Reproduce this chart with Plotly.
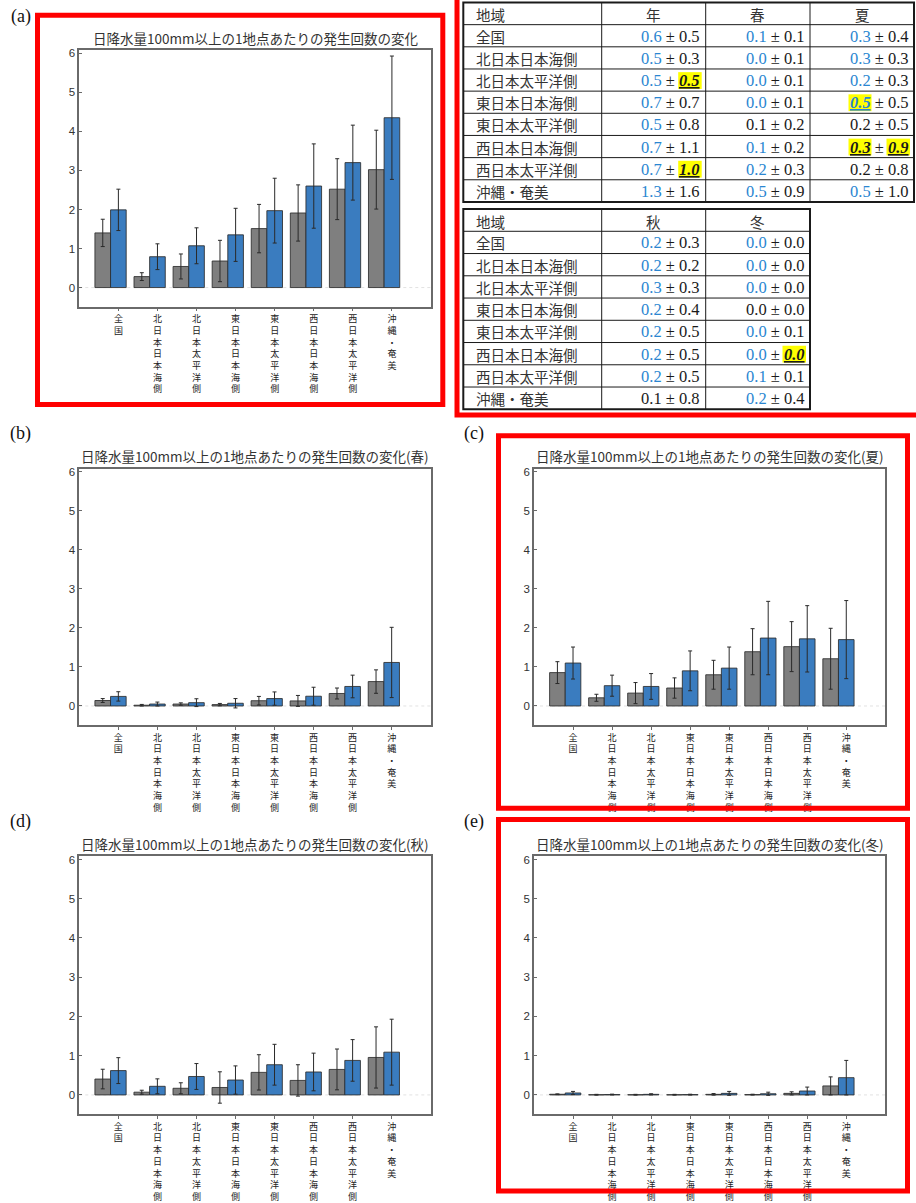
import plotly.graph_objects as go

W, H = 916, 1203

# ---------------- data ----------------
regions = ["全国", "北日本日本海側", "北日本太平洋側", "東日本日本海側",
           "東日本太平洋側", "西日本日本海側", "西日本太平洋側", "沖縄・奄美"]

annual_now = [1.40, 0.28, 0.54, 0.68, 1.51, 1.91, 2.52, 3.02]
annual_now_sd = [0.35, 0.10, 0.32, 0.53, 0.62, 0.72, 0.78, 1.01]
annual_fut = [1.99, 0.79, 1.07, 1.35, 1.97, 2.60, 3.20, 4.35]
annual_fut_sd = [0.53, 0.33, 0.46, 0.68, 0.83, 1.08, 0.96, 1.58]

spring_now = [0.14, 0.02, 0.05, 0.035, 0.135, 0.13, 0.32, 0.625]
spring_now_sd = [0.05, 0.02, 0.03, 0.03, 0.11, 0.14, 0.14, 0.30]
spring_fut = [0.245, 0.05, 0.085, 0.07, 0.19, 0.25, 0.50, 1.115]
spring_fut_sd = [0.12, 0.05, 0.10, 0.12, 0.17, 0.23, 0.29, 0.90]

summer_now = [0.855, 0.21, 0.33, 0.46, 0.80, 1.39, 1.52, 1.21]
summer_now_sd = [0.28, 0.09, 0.27, 0.26, 0.37, 0.59, 0.64, 0.78]
summer_fut = [1.10, 0.52, 0.50, 0.90, 0.97, 1.74, 1.72, 1.70]
summer_fut_sd = [0.41, 0.27, 0.33, 0.51, 0.54, 0.94, 0.85, 1.00]

autumn_now = [0.405, 0.07, 0.17, 0.19, 0.575, 0.37, 0.65, 0.955]
autumn_now_sd = [0.25, 0.05, 0.14, 0.40, 0.45, 0.40, 0.52, 0.78]
autumn_fut = [0.62, 0.22, 0.47, 0.38, 0.77, 0.585, 0.88, 1.09]
autumn_fut_sd = [0.33, 0.19, 0.33, 0.36, 0.52, 0.48, 0.53, 0.84]

winter_now = [0.017, 0.005, 0.005, 0.005, 0.015, 0.008, 0.04, 0.23]
winter_now_sd = [0.01, 0.01, 0.01, 0.01, 0.02, 0.01, 0.04, 0.23]
winter_fut = [0.05, 0.01, 0.015, 0.008, 0.04, 0.03, 0.10, 0.44]
winter_fut_sd = [0.04, 0.01, 0.015, 0.01, 0.05, 0.04, 0.10, 0.44]

y_ticks = [0, 1, 2, 3, 4, 5, 6]
base_title = "日降水量100mm以上の1地点あたりの発生回数の変化"
season_suffix = ["", "(春)", "(夏)", "(秋)", "(冬)"]
panel_letters = ["(a)", "(b)", "(c)", "(d)", "(e)"]

# table 1 (年・春・夏)
t1_headers = ["地域", "年", "春", "夏"]
t1_diff = [["0.6", "0.1", "0.3"], ["0.5", "0.0", "0.3"], ["0.5", "0.0", "0.2"],
           ["0.7", "0.0", "0.5"], ["0.5", "0.1", "0.2"], ["0.7", "0.1", "0.3"],
           ["0.7", "0.2", "0.2"], ["1.3", "0.5", "0.5"]]
t1_sd = [["0.5", "0.1", "0.4"], ["0.3", "0.1", "0.3"], ["0.5", "0.1", "0.3"],
         ["0.7", "0.1", "0.5"], ["0.8", "0.2", "0.5"], ["1.1", "0.2", "0.9"],
         ["1.0", "0.3", "0.8"], ["1.6", "0.9", "1.0"]]
t1_sig = [[1, 1, 1], [1, 1, 1], [1, 1, 1], [1, 1, 1], [1, 0, 0], [1, 1, 0],
          [1, 1, 0], [1, 1, 1]]
t1_marked = [(2, 0, "sd"), (3, 2, "diff"), (5, 2, "diff"), (5, 2, "sd"), (6, 0, "sd")]

# table 2 (秋・冬)
t2_headers = ["地域", "秋", "冬"]
t2_diff = [["0.2", "0.0"], ["0.2", "0.0"], ["0.3", "0.0"], ["0.2", "0.0"],
           ["0.2", "0.0"], ["0.2", "0.0"], ["0.2", "0.1"], ["0.1", "0.2"]]
t2_sd = [["0.3", "0.0"], ["0.2", "0.0"], ["0.3", "0.0"], ["0.4", "0.0"],
         ["0.5", "0.1"], ["0.5", "0.0"], ["0.5", "0.1"], ["0.8", "0.4"]]
t2_sig = [[1, 1], [1, 1], [1, 1], [1, 0], [1, 1], [1, 1], [1, 1], [0, 1]]
t2_marked = [(5, 1, "sd")]

# ---------------- styles ----------------
GRAY = "#7f7f7f"
BLUE = "#3a7cbf"
EDGE = "rgba(45,45,45,0.85)"
ERRC = "#2a2a2a"
FRAME = "#6a6a6a"
TXT = "#333333"
NUMBLUE = "#2a86d1"
RED = "#ff0000"
JP = "Noto Sans CJK JP"
SERIF = "Liberation Serif"


def px(x):
    return x / W


def py(y):
    return 1 - y / H


# plot-area rectangles in pixels (x0, x1, y0, y1)
rects = [(79.3, 431.0, 47.7, 307.0),
         (79.3, 430.7, 470.7, 730.0),
         (534.0, 885.3, 470.7, 730.0),
         (79.3, 430.7, 862.7, 1123.3),
         (534.0, 885.3, 862.7, 1123.3)]
letter_pos = [(33, 14), (33, 435), (486, 435), (33, 827), (486, 827)]

series = [(annual_now, annual_now_sd, annual_fut, annual_fut_sd),
          (spring_now, spring_now_sd, spring_fut, spring_fut_sd),
          (summer_now, summer_now_sd, summer_fut, summer_fut_sd),
          (autumn_now, autumn_now_sd, autumn_fut, autumn_fut_sd),
          (winter_now, winter_now_sd, winter_fut, winter_fut_sd)]

fig = go.Figure()
layout = dict(width=W, height=H, autosize=False,
              margin=dict(l=0, r=0, t=0, b=0),
              paper_bgcolor="white", plot_bgcolor="white",
              barmode="overlay", showlegend=False)
shapes = []
annotations = []

vertical_labels = ["<br>".join(list(r)) for r in regions]

for i, (rect, ser) in enumerate(zip(rects, series)):
    n = i + 1
    xs = "x" if n == 1 else f"x{n}"
    ys = "y" if n == 1 else f"y{n}"
    now, now_sd, fut, fut_sd = ser
    fig.add_trace(go.Bar(
        x=regions, y=now, offset=-0.6, width=0.4, name="現在気候",
        marker=dict(color=GRAY, line=dict(color=EDGE, width=1)),
        error_y=dict(type="data", array=now_sd, color=ERRC, thickness=1, width=2),
        xaxis=xs, yaxis=ys))
    fig.add_trace(go.Bar(
        x=regions, y=fut, offset=-0.2, width=0.4, name="将来気候",
        marker=dict(color=BLUE, line=dict(color=EDGE, width=1)),
        error_y=dict(type="data", array=fut_sd, color=ERRC, thickness=1, width=2),
        xaxis=xs, yaxis=ys))
    x0, x1, y0, y1 = rect
    xkey = "xaxis" if n == 1 else f"xaxis{n}"
    ykey = "yaxis" if n == 1 else f"yaxis{n}"
    layout[xkey] = dict(
        type="category", categoryorder="array", categoryarray=regions,
        range=[-1, 8], domain=[px(x0), px(x1)], anchor=ys,
        tickvals=regions, ticktext=vertical_labels, tickangle=0,
        tickfont=dict(family=JP, size=9, color="#222222"),
        ticks="outside", ticklen=3, tickcolor=FRAME, tickwidth=1,
        showline=True, mirror=True, linecolor=FRAME, linewidth=1.5,
        showgrid=False, zeroline=False, fixedrange=True)
    layout[ykey] = dict(
        range=[-0.49, 6.08], domain=[py(y1), py(y0)], anchor=xs,
        tickvals=y_ticks, ticks="inside", ticklen=3, tickcolor=FRAME,
        tickfont=dict(family="Liberation Sans", size=11.5, color=TXT),
        showline=True, mirror=True, linecolor=FRAME, linewidth=1.5,
        showgrid=False, zeroline=False, fixedrange=True)
    shapes.append(dict(type="line", xref=f"{xs} domain", yref=ys,
                       x0=0, x1=1, y0=0, y1=0, layer="below",
                       line=dict(color="#e2e2e2", width=1, dash="dot")))
    annotations.append(dict(
        text=base_title + season_suffix[i], xref="paper", yref="paper",
        x=px((x0 + x1) / 2), y=py(y0 - 12.7), xanchor="center", yanchor="middle",
        showarrow=False, font=dict(family=JP, size=13.5, color=TXT)))
    lx, ly = letter_pos[i]
    annotations.append(dict(
        text=panel_letters[i], xref="paper", yref="paper",
        x=px(lx), y=py(ly), xanchor="right", yanchor="middle",
        showarrow=False, font=dict(family=SERIF, size=18, color="#111111")))


# ---------------- tables ----------------
def draw_table(col_edges, row_edges, headers, diffs, sds, sig, marked):
    L, R = col_edges[0], col_edges[-1]
    T, B = row_edges[0], row_edges[-1]
    for xe in col_edges[1:-1]:
        shapes.append(dict(type="line", xref="paper", yref="paper",
                           x0=px(xe), x1=px(xe), y0=py(T), y1=py(B),
                           line=dict(color="#1a1a1a", width=1)))
    for ye in row_edges[1:-1]:
        shapes.append(dict(type="line", xref="paper", yref="paper",
                           x0=px(L), x1=px(R), y0=py(ye), y1=py(ye),
                           line=dict(color="#1a1a1a", width=1)))
    shapes.append(dict(type="rect", xref="paper", yref="paper",
                       x0=px(L), x1=px(R), y0=py(T), y1=py(B),
                       line=dict(color="#1a1a1a", width=2)))
    # header
    hy = (row_edges[0] + row_edges[1]) / 2 + 1
    annotations.append(dict(text=headers[0], xref="paper", yref="paper",
                            x=px(L + 11), y=py(hy), xanchor="left", yanchor="middle",
                            showarrow=False, font=dict(family=JP, size=14.5, color=TXT)))
    for c in range(1, len(headers)):
        cx = (col_edges[c] + col_edges[c + 1]) / 2
        annotations.append(dict(text=headers[c], xref="paper", yref="paper",
                                x=px(cx), y=py(hy), xanchor="center", yanchor="middle",
                                showarrow=False, font=dict(family=JP, size=14.5, color=TXT)))
    fs = 16.5
    for r, reg in enumerate(regions):
        cy = (row_edges[r + 1] + row_edges[r + 2]) / 2 + 0.5
        annotations.append(dict(text=reg, xref="paper", yref="paper",
                                x=px(L + 11), y=py(cy), xanchor="left", yanchor="middle",
                                showarrow=False, font=dict(family=JP, size=14.5, color=TXT)))
        for c in range(len(diffs[r])):
            right = col_edges[c + 2] - 5.5
            d, s = diffs[r][c], sds[r][c]
            dm = (r, c, "diff") in marked
            sm = (r, c, "sd") in marked
            d_txt = f"<b><i><u>{d}</u></i></b>" if dm else d
            s_txt = f"<b><i><u>{s}</u></i></b>" if sm else s
            if sig[r][c]:
                d_txt = f"<span style='color:{NUMBLUE}'>{d_txt}</span>"
            if dm:
                shapes.append(dict(type="rect", xref="paper", yref="paper",
                                   x0=px(right - 60), x1=px(right - 37),
                                   y0=py(cy + 8.5), y1=py(cy - 8.5),
                                   fillcolor="#ffff00", line=dict(width=0)))
            if sm:
                shapes.append(dict(type="rect", xref="paper", yref="paper",
                                   x0=px(right - 22), x1=px(right + 1.5),
                                   y0=py(cy + 8.5), y1=py(cy - 8.5),
                                   fillcolor="#ffff00", line=dict(width=0)))
            annotations.append(dict(text=f"{d_txt} ± {s_txt}", xref="paper", yref="paper",
                                    x=px(right), y=py(cy), xanchor="right", yanchor="middle",
                                    borderpad=0, borderwidth=0, showarrow=False,
                                    font=dict(family=SERIF, size=fs, color="#1a1a1a")))


draw_table([463.3, 601.7, 705.7, 810.0, 914.0],
           [-0.5 + 22.4 * k for k in range(10)],
           t1_headers, t1_diff, t1_sd, t1_sig, t1_marked)
draw_table([463.3, 601.7, 705.7, 810.0],
           [208.3 + 22.49 * k for k in range(10)],
           t2_headers, t2_diff, t2_sd, t2_sig, t2_marked)

# ---------------- red frames ----------------
red_boxes = [(37.5, 442.8, 12.5, 406.0),
             (457.0, 930.0, -10.0, 416.5),
             (498.5, 907.5, 437.5, 814.0),
             (498.5, 907.5, 825.5, 1201.0)]
for (a0, a1, b0, b1) in red_boxes:
    shapes.append(dict(type="rect", xref="paper", yref="paper",
                       x0=px(a0), x1=px(a1), y0=py(b1), y1=py(b0),
                       line=dict(color=RED, width=5), layer="above"))

layout["shapes"] = shapes
layout["annotations"] = annotations
fig.update_layout(**layout)

post = (
    "document.documentElement.style.margin='0';"
    "document.body.style.margin='0';document.body.style.padding='0';"
    "document.documentElement.style.overflow='hidden';"
    "document.body.style.overflow='hidden';"
    "var d=document.getElementById('{plot_id}');"
    "d.style.position='fixed';d.style.left='0px';d.style.top='0px';"
)
fig.write_html("out.html", config={"displayModeBar": False}, post_script=post)
